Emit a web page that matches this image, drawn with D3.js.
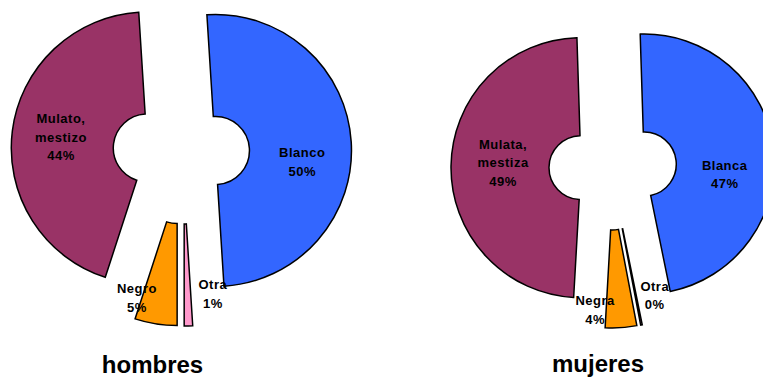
<!DOCTYPE html>
<html>
<head>
<meta charset="utf-8">
<script src="https://cdn.jsdelivr.net/npm/d3@7"></script>
<style>
  body { margin: 0; background: #fff; }
  svg text { font-family: "Liberation Sans", Arial, sans-serif; }
</style>
</head>
<body>
<div id="chart"></div>
<script>
// data (clockwise from the top)
const categoriasHombres = ['Blanco', 'Otra', 'Negro', 'Mulato, mestizo'];
const valoresHombres = [50, 1, 5, 44];
const categoriasMujeres = ['Blanca', 'Otra', 'Negra', 'Mulata, mestiza'];
const valoresMujeres = [47.3, 0.2, 3.9, 48.6];
const titulos = ['hombres', 'mujeres'];

const colores = ['#3366ff', '#ff99cc', '#ff9900', '#993366'];

const width = 763;
const height = 379;

const svg = d3.select('#chart')
  .append('svg')
  .attr('width', width)
  .attr('height', height);

// layout of each donut (explode = distance each slice is pulled out,
// nudge = manual label shift like in the original spreadsheet)
const charts = [
  { cats: categoriasHombres, vals: valoresHombres, title: titulos[0],
    cx: 183, cy: 152.5, R: 136, r: 34, start: -3.6,
    explode: [32.5, 37.5, 37.5, 36],
    nudge: [[2, 17], [25, -12], [-22, -6], [-2, 0]],
    titleX: 152.5, titleY: 373 },
  { cats: categoriasMujeres, vals: valoresMujeres, title: titulos[1],
    cx: 610.5, cy: 168, R: 130, r: 32, start: -1.8,
    explode: [34, 30, 30, 29.5],
    nudge: [[0, 19.5], [16, -16], [-25, -4], [3, -4]],
    titleX: 598, titleY: 372 }
];

const lineH = 18.5;

charts.forEach(c => {
  const a0 = c.start * Math.PI / 180;
  const pie = d3.pie().sort(null).startAngle(a0).endAngle(a0 + 2 * Math.PI);
  const arcs = pie(c.vals);
  const arc = d3.arc().innerRadius(c.r).outerRadius(c.R);

  const g = svg.append('g').attr('transform', `translate(${c.cx},${c.cy})`);

  const mid = d => (d.startAngle + d.endAngle) / 2;
  const off = (d, i) => [c.explode[i] * Math.sin(mid(d)), -c.explode[i] * Math.cos(mid(d))];

  g.selectAll('path')
    .data(arcs)
    .join('path')
    .attr('transform', (d, i) => `translate(${off(d, i)})`)
    .attr('d', arc)
    .attr('fill', (d, i) => colores[i])
    .attr('stroke', '#000')
    .attr('stroke-width', 1.5)
    .attr('stroke-linejoin', 'miter');

  // labels: big slices inside the ring, small ones just outside
  g.selectAll('text.lbl')
    .data(arcs)
    .join('text')
    .attr('class', 'lbl')
    .attr('text-anchor', 'middle')
    .attr('font-size', '13px')
    .attr('font-weight', 'bold')
    .attr('letter-spacing', '0.5px')
    .attr('fill', '#000')
    .each(function (d, i) {
      const [ox, oy] = off(d, i);
      const lr = (d.endAngle - d.startAngle) > 0.5 ? (c.r + c.R) / 2 : 116;
      const x = ox + lr * Math.sin(mid(d)) + c.nudge[i][0];
      const y = oy - lr * Math.cos(mid(d)) + c.nudge[i][1];
      const lines = c.cats[i].split(' ').concat([Math.round(c.vals[i]) + '%']);
      d3.select(this).selectAll('tspan')
        .data(lines)
        .join('tspan')
        .attr('x', x)
        .attr('y', (t, k) => y + (k - (lines.length - 1) / 2) * lineH + 4.6)
        .text(t => t);
    });

  svg.append('text')
    .attr('x', c.titleX)
    .attr('y', c.titleY)
    .attr('text-anchor', 'middle')
    .attr('font-size', '24px')
    .attr('font-weight', 'bold')
    .attr('fill', '#000')
    .text(c.title);
});
</script>
</body>
</html>
